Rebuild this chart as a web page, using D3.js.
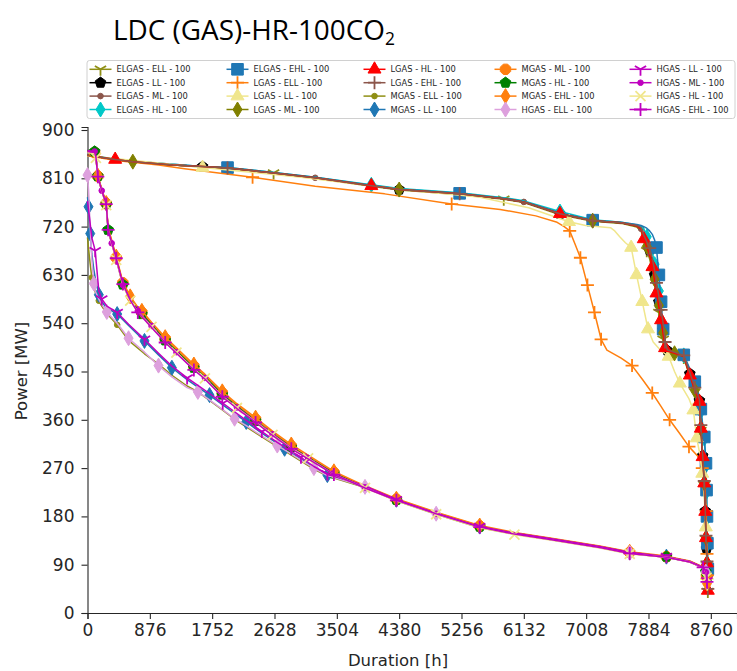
<!DOCTYPE html>
<html><head><meta charset="utf-8">
<script src="https://cdn.jsdelivr.net/npm/d3@7"></script>
<style>body{margin:0;background:#fff} svg{display:block}</style>
</head><body>
<svg id="chart" width="737" height="671"></svg>
<script>
// ---------------- DATA ----------------
const xTicks = [0, 876, 1752, 2628, 3504, 4380, 5256, 6132, 7008, 7884, 8760];
const yTicks = [0, 90, 180, 270, 360, 450, 540, 630, 720, 810, 900];

const seriesNames = [
  "ELGAS - ELL - 100","ELGAS - LL - 100","ELGAS - ML - 100","ELGAS - HL - 100",
  "ELGAS - EHL - 100","LGAS - ELL - 100","LGAS - LL - 100","LGAS - ML - 100",
  "LGAS - HL - 100","LGAS - EHL - 100","MGAS - ELL - 100","MGAS - LL - 100",
  "MGAS - ML - 100","MGAS - HL - 100","MGAS - EHL - 100","HGAS - ELL - 100",
  "HGAS - LL - 100","HGAS - ML - 100","HGAS - HL - 100","HGAS - EHL - 100"
];

// hour grid shared by the eight ELGAS / LGAS curves that run together
const hoursMain = [0,389,637,1200,1617,1968,2615,3200,3989,4380,5230,5850,6132,6640,7100,7500,7720,7780,7818,7860,7900,7940,7970,7996,8030,8061,8090,8117,8150,8250,8380,8465,8535,8580,8600,8620,8645,8668,8682,8692,8700,8706,8712,8718];
const mwELGAS_ELL = [853,845,841,835,831,828,820,810,795,788,780,771,765,742,730,726,719,712,692,675,660,635,610,585,560,535,510,490,486,482,476,440,412,398,390,340,288,238,185,138,115,90,62,40];
const mwELGAS_LL  = [853,845,841,835,832,829,820,811,796,789,781,772,766,744,731,727,721,717,702,688,676,655,630,606,580,555,528,498,489,485,479,446,418,402,396,346,293,244,190,142,120,95,67,44];
const mwELGAS_ML  = [853,845,841,835,832,829,820,811,796,789,781,772,766,744,731,727,721,716,699,684,670,648,624,600,575,550,524,496,488,484,478,444,416,401,395,345,292,243,190,141,119,94,66,43];
const mwELGAS_HL  = [853,846,842,836,832,830,821,812,798,791,783,774,768,748,733,728,723,720,716,701,690,672,650,630,600,560,525,497,489,485,480,452,428,410,400,376,350,325,298,275,226,176,128,80];
const mwELGAS_EHL = [853,846,842,836,832,830,821,812,797,790,782,773,767,746,732,728,724,722,720,717,712,705,695,681,630,580,529,500,490,486,481,455,431,412,404,380,352,328,300,279,229,180,130,82];
const mwLGAS_ML   = [853,845,841,835,832,829,820,811,796,789,781,772,766,744,731,727,721,716,698,683,668,646,622,598,573,548,522,495,488,484,478,443,415,400,394,344,291,242,189,140,118,93,65,42];
const mwLGAS_HL   = [853,845,841,835,832,829,820,811,796,789,781,772,766,744,731,727,721,716,697,682,667,645,620,596,571,546,520,494,488,484,478,443,415,400,394,344,291,242,189,140,118,93,65,42];
const mwLGAS_EHL  = [853,845,841,835,832,829,820,811,796,789,781,772,766,744,731,727,722,718,704,692,680,660,638,615,590,565,540,505,490,486,480,448,420,405,398,350,296,246,192,144,121,96,68,45];

// LGAS - ELL (drops early)
const hoursLGAS_ELL = [0,400,1000,1364,2320,3200,4176,5118,5800,6300,6600,6700,6777,6850,6927,7026,7125,7218,7300,7500,7653,7800,7937,8060,8181,8320,8453,8600,8640,8680,8695,8700,8706,8712,8718];
const mwLGAS_ELL    = [852,843,835,828,812,795,781,762,752,740,728,720,712,688,662,611,560,510,490,475,461,435,410,385,360,335,310,289,270,230,190,150,110,70,38];

// LGAS - LL
const hoursLGAS_LL = [0,1617,3000,4400,5500,6200,6767,7000,7350,7410,7480,7560,7641,7716,7797,7877,7950,8050,8168,8250,8325,8450,8515,8562,8600,8640,8670,8690,8700,8706,8712];
const mwLGAS_LL    = [852,830,812,789,775,755,729,722,718,712,701,690,681,630,580,529,505,490,478,450,428,400,378,326,300,260,210,160,110,70,40];

// lower curves, upper sub-bundle (MGAS ML/HL/EHL, HGAS ML/HL/EHL)
const hoursLowA = [0,100,118,145,200,263,290,340,404,497,600,707,764,900,1092,1250,1495,1650,1894,2100,2362,2600,2864,3100,3463,3900,4341,4900,5512,6000,6500,7199,7620,8136,8465,8652,8690,8700,8706,8712];
const mwMGAS_ML  = [860,858,849,814,789,763,716,693,662,615,588,568,560,540,511,491,460,443,410,388,361,337,311,292,262,236,212,187,162,149,139,124,113,105,96,85,77,68,54,44];
const mwMGAS_HL  = [862,860,852,814,788,762,714,690,660,612,585,565,557,537,508,488,457,440,407,385,358,334,309,290,260,235,211,186,161,148,138,123,112,105,96,85,77,68,54,44];
const mwMGAS_EHL = [860,858,850,815,790,764,718,695,664,617,590,570,563,542,514,494,463,445,413,390,364,339,314,294,264,237,213,188,163,150,140,125,114,106,97,86,78,70,55,45];
const mwHGAS_ML  = [862,860,851,813,787,761,713,689,659,611,584,563,555,535,506,486,455,438,405,383,357,333,308,289,259,234,210,185,160,147,137,122,111,104,95,84,76,67,53,43];
const mwHGAS_HL  = [858,856,848,812,786,760,712,688,658,610,582,561,553,533,505,485,455,437,404,382,356,332,307,288,258,233,209,184,159,146,136,121,110,104,95,84,76,66,52,42];
const mwHGAS_EHL = [860,858,850,813,787,762,714,690,661,613,583,560,552,532,504,484,453,436,403,381,355,331,306,287,258,233,210,185,160,147,137,122,111,104,95,85,77,65,58,45];

// lower curves, lower sub-bundle (MGAS ELL/LL, HGAS ELL/LL)
const hoursLowB = [0,14,38,60,89,108,159,200,271,417,577,801,998,1186,1400,1551,1715,1900,2067,2231,2450,2667,2770,3000,3182,3371,3900,4341,4900,5512,6000,6500,7199,7620,8136,8465,8652,8690,8700,8706,8712];
const mwMGAS_ELL = [700,680,650,625,612,598,582,572,558,537,508,483,464,443,423,412,396,378,361,347,328,310,302,283,268,255,234,209,184,159,147,137,122,111,104,95,84,76,66,56,43];
const mwMGAS_LL  = [775,757,707,670,640,625,593,580,568,557,536,507,481,457,435,421,406,388,372,356,335,316,306,287,271,257,236,211,186,161,149,139,124,113,105,96,85,78,68,58,45];
const mwHGAS_ELL = [816,790,720,660,614,600,585,575,561,540,512,486,461,440,420,412,397,379,362,349,330,312,304,285,270,256,235,210,185,160,148,138,123,112,104,95,84,77,67,57,44];
const mwHGAS_LL  = [768,752,725,700,685,675,600,585,572,560,538,510,484,460,438,424,409,391,375,359,338,318,309,290,273,259,237,211,186,161,149,139,124,113,105,96,85,78,70,60,47];

// indices of points that carry a marker, per series
const marksELGAS_ELL = [6,11,14,19,21,24,26,30,32,35,37,39,41,43];
const marksELGAS_LL  = [4,9,13,20,22,24,26,28,31,34,36,38,40,42];
const marksELGAS_ML  = [2,7,12,17,20,23,25,27,30,33,35,37,39,41,43];
const marksELGAS_HL  = [8,13,19,22,24,26,30,32,35,37,39,40,41,42];
const marksELGAS_EHL = [5,10,14,23,24,25,26,30,32,35,37,39,40,41,42,43];
const marksLGAS_ELL  = [4,7,12,14,15,16,17,20,22,24,26,28,30,32,33];
const marksLGAS_LL   = [1,6,12,13,14,15,18,20,22,23,25,27,29];
const marksLGAS_ML   = [2,9,14,19,22,24,26,29,32,35,37,39,41];
const marksLGAS_HL   = [1,8,13,18,21,23,25,27,31,34,35,36,37,38,39,41,43];
const marksLGAS_EHL  = [5,10,14,20,23,25,27,30,32,35,37,39,41,43];
const marksMGAS_ELL  = [3,6,9,12,15,18,21,24,27,29,33,34,38];
const marksMGAS_LL   = [1,2,6,9,11,13,16,19,22,25,27,29,34,38];
const marksMGAS_ML   = [1,3,5,8,9,12,14,16,18,20,22,24,26,28,32,33,37];
const marksMGAS_HL   = [1,3,5,6,9,12,14,16,18,20,22,24,26,28,33,36];
const marksMGAS_EHL  = [3,5,8,10,12,14,16,18,20,22,24,26,28,32,38];
const marksHGAS_ELL  = [0,4,8,10,12,15,18,21,24,26,28,33,37];
const marksHGAS_LL   = [5,7,9,11,14,17,20,23,25,27,29,34,39];
const marksHGAS_ML   = [1,4,7,9,11,13,15,17,19,21,23,25,27,33,36];
const marksHGAS_HL   = [2,5,8,10,13,15,17,19,21,23,25,27,29,32,37];
const marksHGAS_EHL  = [3,5,6,8,9,11,14,16,18,20,22,24,26,28,32,35,38];

// ---------------- STYLE ----------------
const seriesColors = ["#8f8f14","#000000","#8c564b","#00c8c8","#1f77b4","#ff7f0e","#f0e68c","#808000",
  "#ff0000","#8c564b","#8f8f14","#1f77b4","#ff7f0e","#008000","#ff7f0e","#dda0dd","#bf00bf","#bf00bf","#f0e68c","#bf00bf"];
const seriesMarkers = ["tri_down","pentagon","point","thin_diamond","square","plus","triangle","thin_diamond",
  "triangle","plus","point","thin_diamond","octagon","pentagon","thin_diamond","thin_diamond","tri_down","point","x","plus"];

const seriesHours = [hoursMain,hoursMain,hoursMain,hoursMain,hoursMain,hoursLGAS_ELL,hoursLGAS_LL,hoursMain,hoursMain,hoursMain,
  hoursLowB,hoursLowB,hoursLowA,hoursLowA,hoursLowA,hoursLowB,hoursLowB,hoursLowA,hoursLowA,hoursLowA];
const seriesValues = [mwELGAS_ELL,mwELGAS_LL,mwELGAS_ML,mwELGAS_HL,mwELGAS_EHL,mwLGAS_ELL,mwLGAS_LL,mwLGAS_ML,mwLGAS_HL,mwLGAS_EHL,
  mwMGAS_ELL,mwMGAS_LL,mwMGAS_ML,mwMGAS_HL,mwMGAS_EHL,mwHGAS_ELL,mwHGAS_LL,mwHGAS_ML,mwHGAS_HL,mwHGAS_EHL];
const seriesMarks = [marksELGAS_ELL,marksELGAS_LL,marksELGAS_ML,marksELGAS_HL,marksELGAS_EHL,marksLGAS_ELL,marksLGAS_LL,marksLGAS_ML,marksLGAS_HL,marksLGAS_EHL,
  marksMGAS_ELL,marksMGAS_LL,marksMGAS_ML,marksMGAS_HL,marksMGAS_EHL,marksHGAS_ELL,marksHGAS_LL,marksHGAS_ML,marksHGAS_HL,marksHGAS_EHL];

// ---------------- DRAW ----------------
const svg = d3.select("#chart");
const FONT = "DejaVu Sans, Verdana, sans-serif";
const x = d3.scaleLinear().domain([0, 9128]).range([87.5, 737]);
const y = d3.scaleLinear().domain([0, 905.6]).range([613, 127]);

function markerPath(type) {
  const p = d3.path();
  const poly = (n, r, rot) => {
    for (let k = 0; k < n; k++) {
      const a = rot + k * 2 * Math.PI / n;
      const px = r * Math.sin(a), py = -r * Math.cos(a);
      k === 0 ? p.moveTo(px, py) : p.lineTo(px, py);
    }
    p.closePath();
  };
  switch (type) {
    case "tri_down": { const r = 6.5; p.moveTo(0,0); p.lineTo(0,r); p.moveTo(0,0); p.lineTo(-0.866*r,-0.5*r); p.moveTo(0,0); p.lineTo(0.866*r,-0.5*r); break; }
    case "square": { const a = 5.8; p.rect(-a,-a,2*a,2*a); break; }
    case "plus": { const r = 6.5; p.moveTo(-r,0); p.lineTo(r,0); p.moveTo(0,-r); p.lineTo(0,r); break; }
    case "x": { const r = 5; p.moveTo(-r,-r); p.lineTo(r,r); p.moveTo(-r,r); p.lineTo(r,-r); break; }
    case "triangle": { const r = 7.5; p.moveTo(0,-r); p.lineTo(0.866*r,0.5*r); p.lineTo(-0.866*r,0.5*r); p.closePath(); break; }
    case "thin_diamond": { const r = 7.5; p.moveTo(0,-r); p.lineTo(0.6*r,0); p.lineTo(0,r); p.lineTo(-0.6*r,0); p.closePath(); break; }
    case "point": { p.arc(0,0,2.8,0,2*Math.PI); break; }
    case "pentagon": poly(5, 5.6, 0); break;
    case "octagon": poly(8, 5.6, Math.PI/8); break;
  }
  return p.toString();
}
const strokeOnly = t => t === "tri_down" || t === "plus" || t === "x";

function drawMarker(g, type, color, cx, cy) {
  const so = strokeOnly(type);
  g.append("path").attr("d", markerPath(type))
    .attr("transform", `translate(${cx},${cy})`)
    .attr("fill", so ? "none" : color)
    .attr("stroke", color)
    .attr("stroke-width", so ? 1.8 : 1)
    .attr("stroke-linejoin", "miter");
}

// axes
const axisG = svg.append("g");
const xAxis = d3.axisBottom(x).tickValues(xTicks).tickSize(6).tickPadding(5).tickFormat(d3.format("d"));
const yAxis = d3.axisLeft(y).tickValues(yTicks).tickSize(6).tickPadding(7).tickFormat(d3.format("d"));
const gx = axisG.append("g").attr("transform", "translate(0,613)").call(xAxis);
const gy = axisG.append("g").attr("transform", "translate(87.5,0)").call(yAxis);
[gx, gy].forEach(g => {
  g.selectAll("text").attr("font-family", FONT).attr("font-size", 17).attr("fill", "#262626");
  g.selectAll("line").attr("stroke", "#262626").attr("stroke-width", 1.1);
  g.select(".domain").attr("stroke", "#262626").attr("stroke-width", 1.1);
});

svg.append("text").attr("x", 398).attr("y", 666).attr("text-anchor", "middle")
  .attr("font-family", FONT).attr("font-size", 16.5).attr("fill", "#262626").text("Duration [h]");
svg.append("text").attr("transform", "translate(27,371) rotate(-90)").attr("text-anchor", "middle")
  .attr("font-family", FONT).attr("font-size", 16.5).attr("fill", "#262626").text("Power [MW]");

// series
const plotG = svg.append("g");
const line = d3.line().x(d => x(d[0])).y(d => y(d[1]));
seriesNames.forEach((name, i) => {
  const pts = d3.zip(seriesHours[i], seriesValues[i]);
  const g = plotG.append("g");
  g.append("path").attr("d", line(pts)).attr("fill", "none")
    .attr("stroke", seriesColors[i]).attr("stroke-width", 1.5).attr("stroke-linejoin", "round");
  seriesMarks[i].forEach(k => drawMarker(g, seriesMarkers[i], seriesColors[i], x(pts[k][0]), y(pts[k][1])));
});

// legend
const leg = svg.append("g");
leg.append("rect").attr("x", 87).attr("y", 60.5).attr("width", 648).attr("height", 58).attr("rx", 2.5)
  .attr("fill", "#fff").attr("stroke", "#d0d0d0").attr("stroke-width", 1);
const colX = [100.5, 237.5, 374.5, 505.5, 640.5];
const rowY = [69.3, 82.7, 96.1, 109.5];
seriesNames.forEach((name, i) => {
  const cx = colX[Math.floor(i / 4)], cy = rowY[i % 4];
  const g = leg.append("g");
  g.append("line").attr("x1", cx - 11).attr("x2", cx + 11).attr("y1", cy).attr("y2", cy)
    .attr("stroke", seriesColors[i]).attr("stroke-width", 1.5);
  drawMarker(g, seriesMarkers[i], seriesColors[i], cx, cy);
  g.append("text").attr("x", cx + 16).attr("y", cy + 3).attr("font-family", FONT).attr("font-size", 8.3)
    .attr("fill", "#262626").text(name);
});

// title
const title = svg.append("text").attr("x", 113).attr("y", 40).attr("font-family", "Open Sans, Liberation Sans, sans-serif")
  .attr("font-size", 24).attr("fill", "#000");
title.append("tspan").text("LDC (GAS)-HR-100CO");
title.append("tspan").attr("font-size", 15).attr("dy", 5).text("2");
const tw = title.node().getComputedTextLength();
title.attr("font-size", 24 * 282 / tw);
title.select("tspan:nth-child(2)").attr("font-size", 15 * 282 / tw);
</script></body></html>
